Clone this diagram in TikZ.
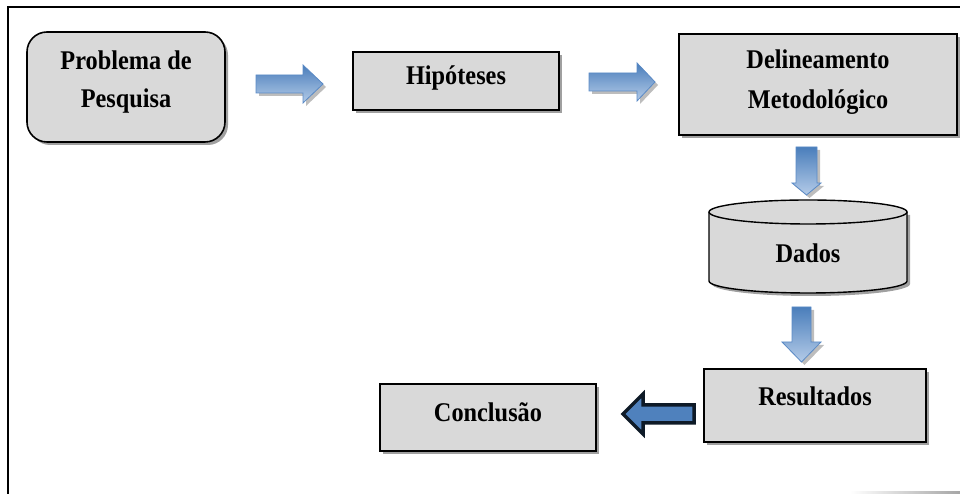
\documentclass[tikz,border=0pt]{standalone}
\usepackage{fontspec}
\setmainfont{Liberation Serif}[FakeStretch=0.9]
\definecolor{boxfill}{HTML}{D9D9D9}
\definecolor{shadowc}{HTML}{A0A0A0}
\definecolor{arrowdark}{HTML}{4A7EBB}
\definecolor{arrowlight}{HTML}{B4CBE8}
\definecolor{arrowline}{HTML}{5A8AC6}
\definecolor{navy}{HTML}{0E1A27}
\definecolor{midblue}{HTML}{4F81BD}
\tikzset{
  x=1pt,y=1pt,
  boxstyle/.style={draw=black,line width=1.6pt,fill=boxfill,inner sep=0pt},
  shadowbox/.style={fill=shadowc,draw=none,inner sep=0pt},
  lbl/.style={font=\bfseries\fontsize{27}{41}\selectfont,align=center,inner sep=0pt},
  blockarrow/.style={draw=arrowline,line width=0.8pt,top color=arrowdark,bottom color=arrowlight},
  arrowshadow/.style={fill=shadowc!70,draw=none},
}
\begin{document}
\begin{tikzpicture}
\useasboundingbox (0,0) rectangle (960,494);
% frame
\draw[line width=1.6pt] (8,0) -- (8,487) -- (960,487);
\shade[left color=white,right color=gray!70] (850,0) rectangle (960,2);

% Problema de Pesquisa (rounded box)
\fill[shadowc,rounded corners=20pt] (30,349) rectangle (228,459);
\node[boxstyle,rounded corners=20pt,minimum width=198pt,minimum height=110pt] (prob) at (126,407) {};
\node[lbl] (probt1) at (126,434) {Problema de};
\node[lbl] (probt2) at (126,393) {Pesquisa};

% Hipoteses
\node[shadowbox,minimum width=206pt,minimum height=58pt] (hipsh) at (459,410) {};
\node[boxstyle,minimum width=206pt,minimum height=58pt] (hip) at (456,413) {};
\node[lbl] (hipt) at (456,416) {Hipóteses};

% Delineamento Metodologico
\node[shadowbox,minimum width=278pt,minimum height=101pt] (delsh) at (821,406.5) {};
\node[boxstyle,minimum width=278pt,minimum height=101pt] (del) at (818,409.5) {};
\node[lbl] (delt1) at (818,435) {Delineamento};
\node[lbl] (delt2) at (818,392) {Metodológico};

% Dados cylinder
\fill[shadowc] (712,279) -- (712,210) arc[start angle=180,end angle=360,x radius=99,y radius=12] -- (910,279) -- cycle;
\fill[boxfill] (709,282) -- (709,213) arc[start angle=180,end angle=360,x radius=99,y radius=12] -- (907,282) -- cycle;
\draw[line width=1.4pt] (709,282) -- (709,213) arc[start angle=180,end angle=360,x radius=99,y radius=12] -- (907,282);
\draw[line width=1.4pt,fill=boxfill] (808,282) ellipse[x radius=99,y radius=12];
\node[lbl] (dados) at (808,241) {Dados};

% Resultados
\node[shadowbox,minimum width=222pt,minimum height=73pt] (ressh) at (818,85.5) {};
\node[boxstyle,minimum width=222pt,minimum height=73pt] (res) at (815,88.5) {};
\node[lbl] (rest) at (815,98) {Resultados};

% Conclusao
\node[shadowbox,minimum width=216pt,minimum height=67pt] (consh) at (491,73.5) {};
\node[boxstyle,minimum width=216pt,minimum height=67pt] (con) at (488,76.5) {};
\node[lbl] (cont) at (488,82) {Conclusão};

% right arrow 1
\fill[arrowshadow] (259,398) -- (259,416) -- (306,416) -- (306,426) -- (326,407) -- (306,388) -- (306,398) -- cycle;
\path[blockarrow] (256,401) -- (256,419) -- (303,419) -- (303,429) -- (323,410) -- (303,391) -- (303,401) -- cycle;

% right arrow 2
\fill[arrowshadow] (592,400) -- (592,418) -- (640,418) -- (640,428) -- (658,409) -- (640,390) -- (640,400) -- cycle;
\path[blockarrow] (589,403) -- (589,421) -- (637,421) -- (637,431) -- (655,412) -- (637,393) -- (637,403) -- cycle;

% down arrow 1
\fill[arrowshadow] (799,344) -- (820,344) -- (820,308) -- (824,308) -- (809.5,296) -- (795,308) -- (799,308) -- cycle;
\path[blockarrow] (796,347) -- (817,347) -- (817,311) -- (821,311) -- (806.5,299) -- (792,311) -- (796,311) -- cycle;

% down arrow 2
\fill[arrowshadow] (795,184) -- (814,184) -- (814,149) -- (824,149) -- (804.5,129) -- (785,149) -- (795,149) -- cycle;
\path[blockarrow] (792,187) -- (811,187) -- (811,152) -- (821,152) -- (801.5,132) -- (782,152) -- (792,152) -- cycle;

% left dark arrow
\path[draw=navy,line width=3.5pt,fill=midblue,line join=miter] (694,89) -- (643,89) -- (643,100) -- (623,80) -- (643,60) -- (643,71) -- (694,71) -- cycle;
\end{tikzpicture}
\end{document}
